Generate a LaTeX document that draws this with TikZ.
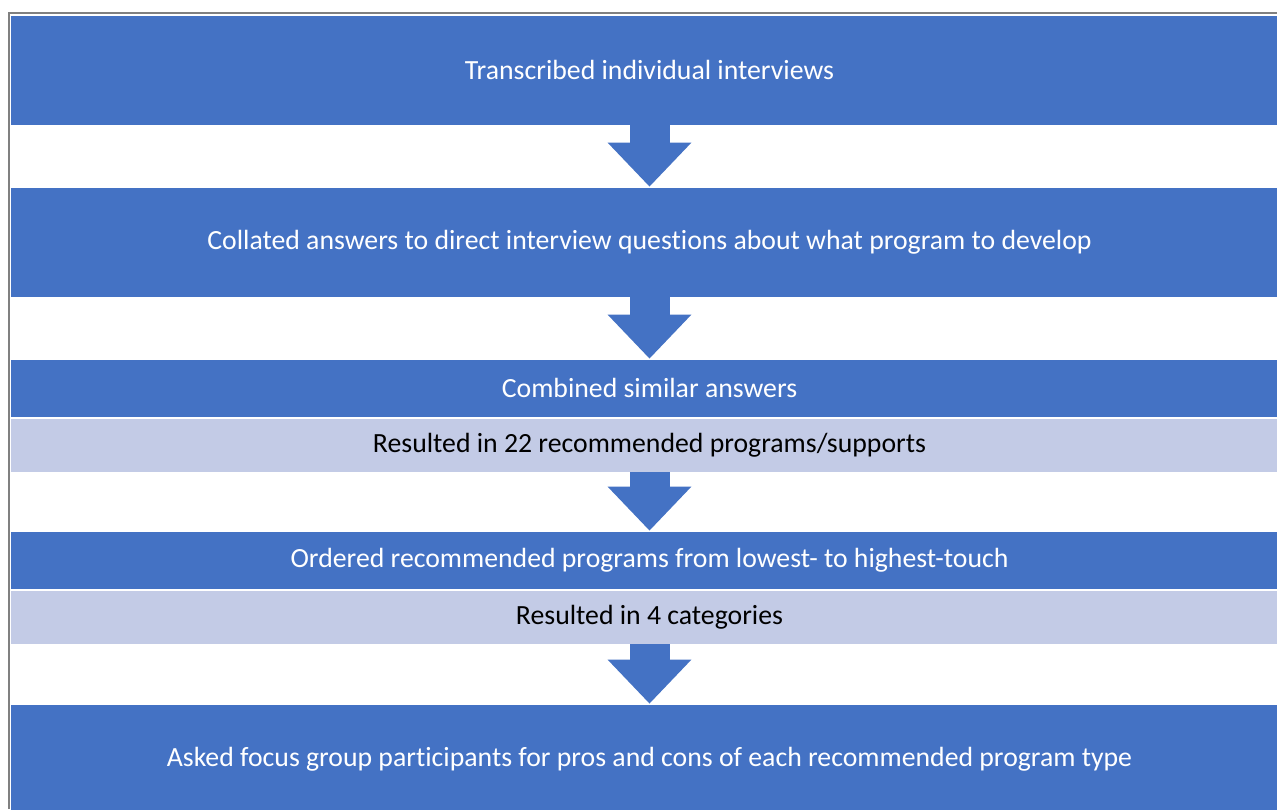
\documentclass[tikz,border=0pt]{standalone}
\usepackage{fontspec}
\setmainfont[Ligatures=NoCommon]{Carlito}
\usetikzlibrary{arrows.meta}
\definecolor{stepblue}{HTML}{4472C4}
\definecolor{noteblue}{HTML}{C3CBE6}
\begin{document}
\begin{tikzpicture}[x=0.02cm,y=-0.02cm,font=\fontsize{15.8}{19}\selectfont,
  band/.style={rectangle,inner sep=0pt,minimum width=25.58cm,draw=white,line width=0.4pt},
  stepband/.style={band,fill=stepblue,text=white},
  noteband/.style={band,fill=noteblue,text=black},
  flowarrow/.style={draw=stepblue,line width=0.8cm,
    -{Triangle[width=1.62cm,length=0.88cm]}}]
\useasboundingbox (0,0) rectangle (1277,809);
\fill[white] (0,0) rectangle (1277,809);
\draw[gray,line width=0.8pt] (9,809)--(9,13)--(1277,13);
\node[stepband,minimum height=2.2cm] (transcribed) at (649.5,70){Transcribed individual interviews};
\node[stepband,minimum height=2.2cm] (collated) at (649.5,242){Collated answers to direct interview questions about what program to develop};
\node[stepband,minimum height=1.16cm] (combined) at (649.5,388){Combined similar answers};
\node[noteband,minimum height=1.08cm] (twentytwo) at (649.5,445){Resulted in 22 recommended programs/supports};
\node[stepband,minimum height=1.16cm] (ordered) at (649.5,560){Ordered recommended programs from lowest- to highest-touch};
\node[noteband,minimum height=1.08cm] (categories) at (649.5,617){Resulted in 4 categories};
\node[stepband,minimum height=2.2cm] (focus) at (649.5,759){Asked focus group participants for pros and cons of each recommended program type};
\draw[flowarrow] (transcribed.south)--(collated.north);
\draw[flowarrow] (collated.south)--(combined.north);
\draw[flowarrow] (twentytwo.south)--(ordered.north);
\draw[flowarrow] (categories.south)--(focus.north);
\end{tikzpicture}
\end{document}
